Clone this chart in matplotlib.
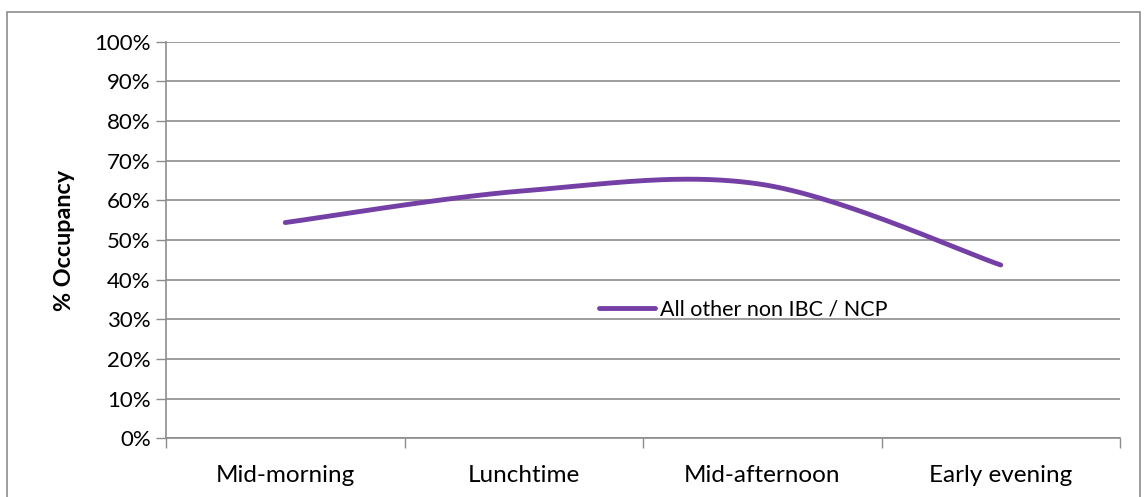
import numpy as np
import matplotlib
matplotlib.use("Agg")
import matplotlib.pyplot as plt
from matplotlib.patches import Rectangle
from matplotlib.ticker import FuncFormatter, FixedLocator

plt.rcParams['font.family'] = ['Lato', 'DejaVu Sans']

categories = ["Mid-morning", "Lunchtime", "Mid-afternoon", "Early evening"]
occupancy = [54.4, 62.4, 64.0, 43.7]
series_name = "All other non IBC / NCP"
y_ticks = list(range(0, 101, 10))

LINE = "#7540A5"
GRID = "#8C8C8C"


def smooth_curve(xs, ys, n=60):
    """Cubic Bezier smoothing through every point (Catmull-Rom style)."""
    pts = np.column_stack([xs, ys]).astype(float)
    ext = np.vstack([pts[0], pts, pts[-1]])
    out = []
    t = np.linspace(0, 1, n)[:, None]
    for i in range(len(pts) - 1):
        p0, p1, p2, p3 = ext[i], ext[i + 1], ext[i + 2], ext[i + 3]
        c1 = p1 + (p2 - p0) / 6.0
        c2 = p2 - (p3 - p1) / 6.0
        seg = ((1 - t) ** 3) * p1 + 3 * ((1 - t) ** 2) * t * c1 \
            + 3 * (1 - t) * t ** 2 * c2 + t ** 3 * p2
        out.append(seg if i == 0 else seg[1:])
    seg = np.vstack(out)
    return seg[:, 0], seg[:, 1]


fig = plt.figure(figsize=(11.48, 4.97), dpi=100)
W, H = 1148, 497
left, right, top, bottom = 166, 1120, 41.7, 438.3
ax = fig.add_axes([left / W, 1 - bottom / H, (right - left) / W, (bottom - top) / H])

x = np.arange(len(categories))
sx, sy = smooth_curve(x, occupancy)
ax.plot(sx, sy, color=LINE, lw=3.5, solid_capstyle='round', label=series_name)

ax.set_xlim(-0.5, len(categories) - 0.5)
ax.set_ylim(0, 100)
ax.set_yticks(y_ticks)
ax.yaxis.set_major_formatter(FuncFormatter(lambda v, p: f"{int(v)}%"))
ax.set_xticks(x)
ax.set_xticklabels(categories)
ax.xaxis.set_minor_locator(FixedLocator(np.arange(-0.5, len(categories), 1.0)))
ax.tick_params(axis='x', which='major', length=0, pad=19, labelsize=17.5, colors='black')
ax.tick_params(axis='x', which='minor', length=7, width=1, color=GRID)
ax.tick_params(axis='y', length=7, width=1, color=GRID, pad=4, labelsize=16, labelcolor='black')
ax.grid(axis='y', color=GRID, lw=1.2)
ax.set_axisbelow(True)
for s in ['top', 'right']:
    ax.spines[s].set_visible(False)
for s in ['left', 'bottom']:
    ax.spines[s].set_color(GRID)
    ax.spines[s].set_linewidth(1.2)

ax.set_ylabel("% Occupancy", fontsize=16.8, fontweight='bold', labelpad=14)

leg = ax.legend(loc='center left', bbox_to_anchor=((599 - left) / (right - left), (bottom - 309.5) / (bottom - top)),
                frameon=False, fontsize=15.5, handlelength=2.6, handletextpad=0.22, borderpad=0, borderaxespad=0)

# outer chart border
fig.patches.append(Rectangle((7 / W, -0.05), (1140 - 7) / W, 1.05 - 12 / H,
                             transform=fig.transFigure, fill=False, edgecolor=GRID, lw=1.2))

fig.savefig("out.png", dpi=100, facecolor='white')
